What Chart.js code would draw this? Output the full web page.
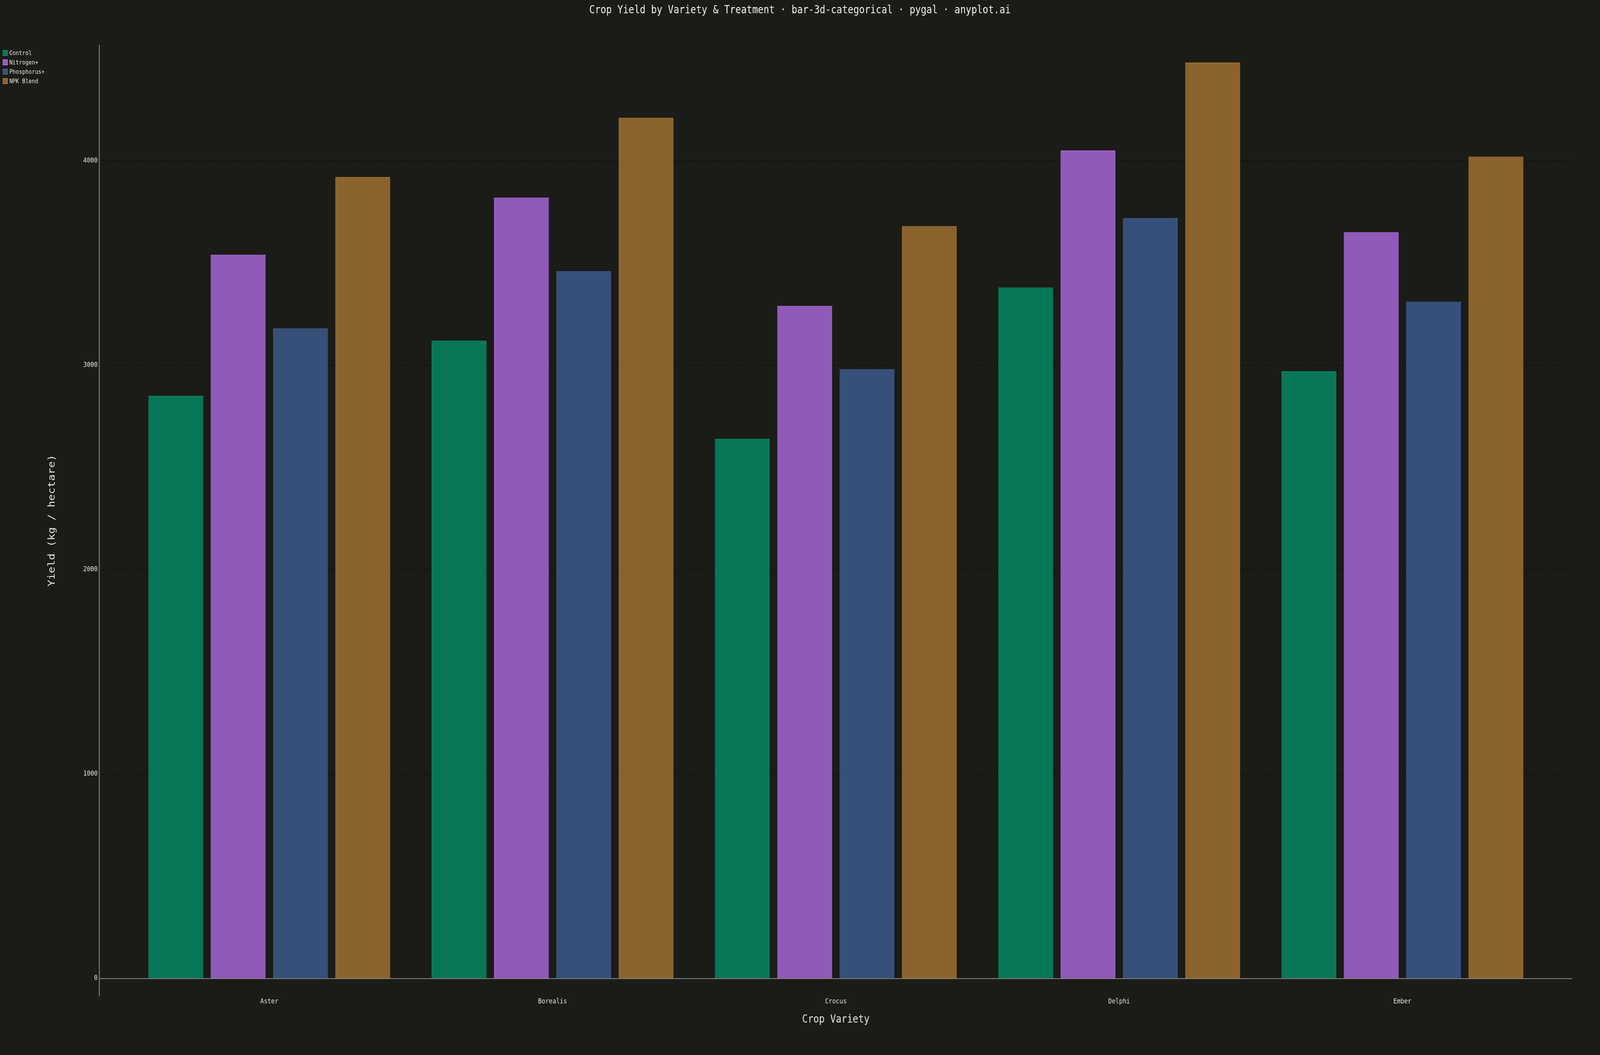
<!DOCTYPE html>
<html>
<head>
<meta charset="utf-8">
<title>Crop Yield by Variety & Treatment</title>
<script src="https://cdn.jsdelivr.net/npm/chart.js@4.4.1/dist/chart.umd.min.js"></script>
<style>
  html, body { margin: 0; padding: 0; background: #1b1b17; overflow: hidden; }
  #stage { position: relative; width: 100vw; height: 100vh; overflow: hidden; }
  #wrap { position: absolute; left: 0; top: 0; width: 4800px; height: 2700px; transform-origin: 0 0; }
  #wrap canvas { display: block; }
  #legend {
    position: absolute; left: 8px; top: 123px;
    font-family: 'DejaVu Sans Mono', monospace; font-size: 16px; color: #e8e8e0;
  }
  #legend .row { display: flex; align-items: center; height: 24px; }
  #legend .swatch { width: 15px; height: 15px; box-sizing: border-box; border: 2px solid; margin-right: 5px; }
</style>
</head>
<body>
<div id="stage">
  <div id="wrap">
    <canvas id="yieldChart" width="4800" height="2700"></canvas>
    <div id="legend"></div>
  </div>
</div>
<script>
const varieties = ['Aster', 'Borealis', 'Crocus', 'Delphi', 'Ember'];
const treatments = ['Control', 'Nitrogen+', 'Phosphorus+', 'NPK Blend'];

const controlYield = [2850, 3120, 2640, 3380, 2970];
const nitrogenYield = [3540, 3820, 3290, 4050, 3650];
const phosphorusYield = [3180, 3460, 2980, 3720, 3310];
const npkYield = [3920, 4210, 3680, 4480, 4020];

const yTicks = [0, 1000, 2000, 3000, 4000];
const Y_MIN = -88;
const Y_MAX = 4567;

const seriesRgb = ['0,158,115', '194,118,253', '66,103,164', '187,130,54'];
const seriesValues = [controlYield, nitrogenYield, phosphorusYield, npkYield];

const FONT = "'DejaVu Sans Mono', monospace";
const TEXT = '#e8e8e0';
// pygal draws its axis lines a bit past the band the bars sit in
const AXIS_OVERHANG_LEFT = 85;
const AXIS_OVERHANG_RIGHT = 85;

function fitStage() {
  // the drawing is laid out in 4800x2700 units; map it onto the real viewport
  const sx = window.innerWidth / 4800;
  const sy = window.innerHeight / 2700;
  document.getElementById('wrap').style.transform = `scale(${sx}, ${sy})`;
}

function buildLegend() {
  const box = document.getElementById('legend');
  treatments.forEach((name, i) => {
    const row = document.createElement('div');
    row.className = 'row';
    const sw = document.createElement('span');
    sw.className = 'swatch';
    sw.style.background = `rgba(${seriesRgb[i]},0.7)`;
    sw.style.borderColor = `rgba(${seriesRgb[i]},0.85)`;
    const label = document.createElement('span');
    label.textContent = name;
    row.appendChild(sw);
    row.appendChild(label);
    box.appendChild(row);
  });
}

const axisFrame = {
  id: 'axisFrame',
  beforeDatasetsDraw(chart) {
    const { ctx, chartArea, scales: { y } } = chart;
    const left = chartArea.left - AXIS_OVERHANG_LEFT;
    const right = chartArea.right + AXIS_OVERHANG_RIGHT;
    ctx.save();

    ctx.setLineDash([4.5, 4.5]);
    ctx.strokeStyle = '#0b0b09';
    ctx.lineWidth = 1.5;
    yTicks.forEach((v) => {
      if (v === 0) return;
      const py = Math.round(y.getPixelForValue(v)) + 0.5;
      ctx.beginPath();
      ctx.moveTo(left + 2, py);
      ctx.lineTo(right, py);
      ctx.stroke();
    });

    ctx.setLineDash([]);
    ctx.strokeStyle = '#8c8c88';
    ctx.lineWidth = 2.5;
    ctx.beginPath();
    ctx.moveTo(left, chartArea.top);
    ctx.lineTo(left, chartArea.bottom);
    ctx.stroke();

    const zero = Math.round(y.getPixelForValue(0)) + 0.5;
    ctx.lineWidth = 2;
    ctx.beginPath();
    ctx.moveTo(left, zero);
    ctx.lineTo(right, zero);
    ctx.stroke();

    ctx.restore();
  }
};

function initChart() {
  const ctx = document.getElementById('yieldChart');

  new Chart(ctx, {
    type: 'bar',
    data: {
      labels: varieties,
      datasets: treatments.map((name, i) => ({
        label: name,
        data: seriesValues[i],
        backgroundColor: `rgba(${seriesRgb[i]},0.7)`,
        borderColor: `rgba(${seriesRgb[i]},0.85)`,
        borderWidth: 2,
        borderSkipped: false,
        categoryPercentage: 0.88,
        barPercentage: 0.88
      }))
    },
    options: {
      responsive: false,
      devicePixelRatio: 1,
      animation: false,
      layout: { padding: { left: 84, right: 84, top: 0, bottom: 73 } },
      scales: {
        x: {
          grid: { display: false, drawTicks: false },
          border: { display: false },
          ticks: {
            color: TEXT,
            padding: 3,
            font: { family: FONT, size: 18 }
          },
          title: {
            display: true,
            text: 'Crop Variety',
            color: TEXT,
            padding: { top: 16, bottom: 0 },
            font: { family: FONT, size: 28 }
          }
        },
        y: {
          min: Y_MIN,
          max: Y_MAX,
          afterBuildTicks: (scale) => {
            scale.ticks = yTicks.map((v) => ({ value: v }));
          },
          afterFit: (scale) => {
            scale.width = 299;
          },
          grid: { display: false, drawTicks: false },
          border: { display: false },
          ticks: {
            color: TEXT,
            padding: 90,
            font: { family: FONT, size: 18 },
            callback: (v) => String(v)
          },
          title: {
            display: true,
            text: 'Yield (kg / hectare)',
            color: TEXT,
            padding: { top: 56, bottom: 0 },
            font: { family: FONT, size: 28 }
          }
        },
        // empty right-hand gutter so the plot band stops where pygal's does
        gutter: {
          type: 'linear',
          position: 'right',
          display: true,
          afterFit: (scale) => {
            scale.width = 84;
          },
          grid: { display: false, drawTicks: false },
          border: { display: false },
          ticks: { display: false }
        }
      },
      plugins: {
        legend: { display: false },
        tooltip: { enabled: false },
        title: {
          display: true,
          text: 'Crop Yield by Variety & Treatment · bar-3d-categorical · pygal · anyplot.ai',
          color: '#f2f2ec',
          padding: { top: 10, bottom: 71 },
          font: { family: FONT, size: 28, weight: 'normal' }
        }
      }
    },
    plugins: [axisFrame]
  });
}

fitStage();
window.addEventListener('resize', fitStage);
buildLegend();
initChart();
</script>
</body>
</html>
